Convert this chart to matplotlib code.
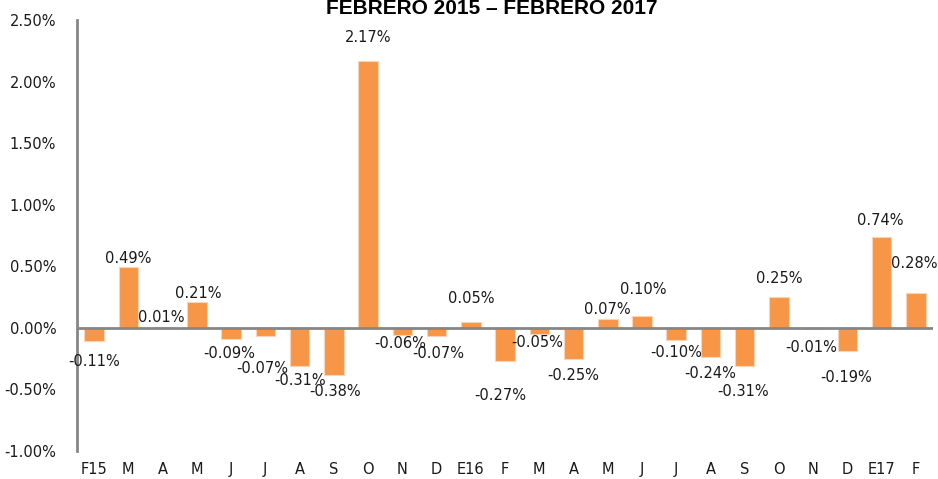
import matplotlib
matplotlib.use("Agg")
import matplotlib.pyplot as plt

categories = ["F15", "M", "A", "M", "J", "J", "A", "S", "O", "N", "D", "E16",
              "F", "M", "A", "M", "J", "J", "A", "S", "O", "N", "D", "E17", "F"]
values = [-0.11, 0.49, 0.01, 0.21, -0.09, -0.07, -0.31, -0.38, 2.17, -0.06, -0.07, 0.05,
          -0.27, -0.05, -0.25, 0.07, 0.10, -0.10, -0.24, -0.31, 0.25, -0.01, -0.19, 0.74, 0.28]
y_ticks = [-1.0, -0.5, 0.0, 0.5, 1.0, 1.5, 2.0, 2.5]
title = "FEBRERO 2015 \u2013 FEBRERO 2017"

# label placement (data units), manually arranged as in the reference
label_y = [-0.27, 0.56, 0.08, 0.28, -0.21, -0.33, -0.43, -0.52, 2.36, -0.13, -0.21, 0.24,
           -0.55, -0.12, -0.39, 0.15, 0.31, -0.20, -0.37, -0.52, 0.40, -0.16, -0.40, 0.87, 0.52]
label_dx = [0.0, 0.0, -0.05, 0.05, -0.05, -0.1, 0.0, 0.05, 0.0, -0.05, 0.05, 0.0,
            -0.15, -0.05, 0.0, 0.0, 0.05, 0.0, 0.0, -0.05, 0.0, -0.05, -0.05, -0.05, -0.05]

fig = plt.figure(figsize=(9.38, 4.79), dpi=100)
ax = fig.add_axes([0.0821, 0.0585, 0.9126, 0.8998])

x = list(range(len(categories)))
ax.bar(x, values, width=0.57, color="#F79646", edgecolor="#FBD3B5", linewidth=0.8, zorder=2)
ax.axhline(0, color="#868686", linewidth=2, zorder=3)

for xi, v, ly, dx in zip(x, values, label_y, label_dx):
    ax.text(xi + dx, ly, f"{v:.2f}%", ha="center", va="center", fontsize=10.5, color="#1a1a1a", zorder=4)

ax.set_xlim(-0.5, len(categories) - 0.5)
ax.set_ylim(-1.0, 2.5)
ax.set_yticks(y_ticks)
ax.set_yticklabels([f"{t:.2f}%" for t in y_ticks], fontsize=10.5, color="#1a1a1a")
ax.set_xticks(x)
ax.set_xticklabels(categories, fontsize=10.5, color="#1a1a1a")
ax.tick_params(axis="y", length=0, pad=15)
ax.tick_params(axis="x", length=0, pad=8)

for s in ["top", "right", "bottom"]:
    ax.spines[s].set_visible(False)
ax.spines["left"].set_color("#868686")
ax.spines["left"].set_linewidth(2)

fig.text(0.524, 0.983, title, ha="center", va="center", fontsize=15,
         fontweight="bold", family="Liberation Sans")

fig.savefig("out.png", dpi=100)
